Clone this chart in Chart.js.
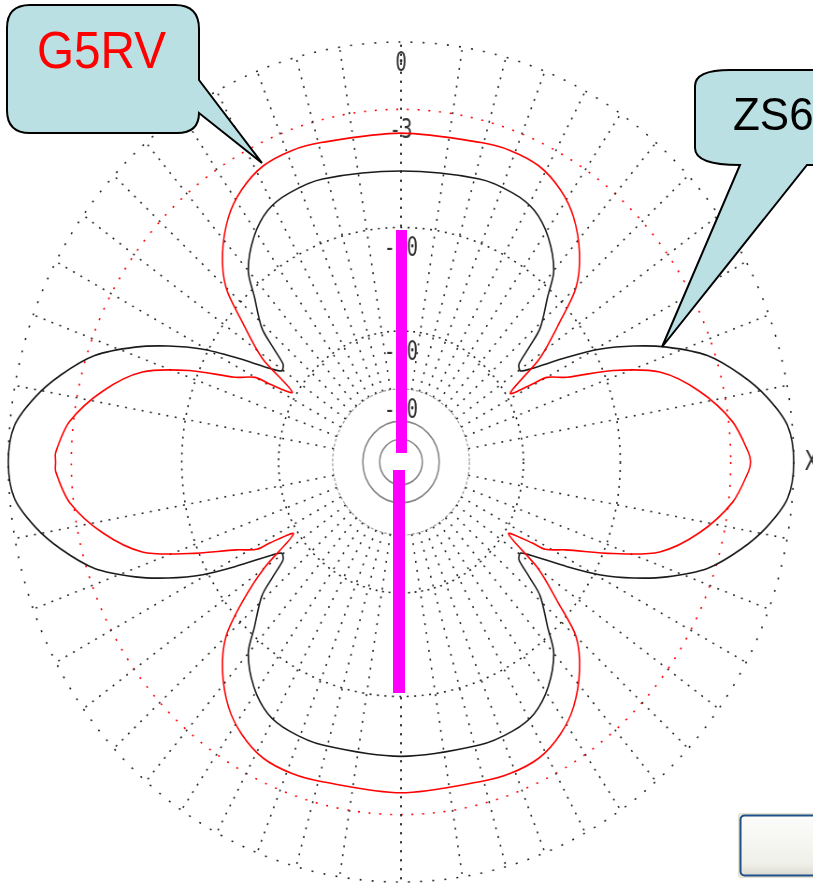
<!DOCTYPE html>
<html>
<head>
<meta charset="utf-8">
<title>G5RV vs ZS6BKW azimuth pattern</title>
<script src="https://cdn.jsdelivr.net/npm/chart.js@4.4.0/dist/chart.umd.min.js"></script>
<style>
    html, body { margin: 0; padding: 0; background: #fff; overflow: hidden; width: 813px; height: 885px; }
    #plot { position: absolute; left: -49px; top: 12px; width: 900px; height: 900px;
            transform-origin: 450px 450px; transform: scaleX(0.935); }
    .wire { position: absolute; background: #ff00ff; }
    #overlay { position: absolute; left: 0; top: 0; }
</style>
</head>
<body>
<div id="plot"><canvas id="pattern" width="900" height="900"></canvas></div>
<div class="wire" style="left:396px;top:230px;width:11px;height:223px"></div>
<div class="wire" style="left:393px;top:470px;width:12px;height:223px"></div>

<svg id="overlay" width="813" height="885">
    <defs>
        <linearGradient id="btnFill" x1="0" y1="0" x2="0" y2="1">
            <stop offset="0" stop-color="#fcfcfb"/>
            <stop offset="0.8" stop-color="#f0f0ea"/>
            <stop offset="1" stop-color="#dcdad0"/>
        </linearGradient>
    </defs>
    <!-- G5RV callout -->
    <path d="M 30,5 H 175 Q 199,5 199,29 V 80 L 262,163 L 199,113 Q 199,133 177,133 H 30 Q 7,133 7,110 V 28 Q 7,5 30,5 Z"
          fill="#bae0e3" stroke="#000" stroke-width="2"/>
    <text transform="translate(37,68) scale(0.935,1)" font-family="Liberation Sans, Arial, sans-serif"
          font-size="51" fill="#ff0000">G5RV</text>
    <!-- ZS6BKW callout -->
    <path d="M 730,70 H 830 V 165 H 807 L 662,347 L 740,165 Q 695,165 695,148 V 86 Q 695,70 730,70 Z"
          fill="#bae0e3" stroke="#000" stroke-width="2"/>
    <text transform="translate(733,130) scale(0.935,1)" font-family="Liberation Sans, Arial, sans-serif"
          font-size="47" fill="#000">ZS6BKW</text>
    <!-- button stub, bottom right -->
    <rect x="738.5" y="813.5" width="90" height="64" rx="2" fill="#ece9d8" stroke="#e4e1d0"/>
    <rect x="740.5" y="815.5" width="90" height="60" rx="4" fill="url(#btnFill)" stroke="#1e4f8a" stroke-width="2"/>
</svg>

<script>
// Azimuth patterns, angle in degrees clockwise from top, gain in dB
const g5rvAngles = [0, 15, 20.5, 26.5, 32, 37, 42.5, 47, 50.5, 55, 59.5, 61, 61.5, 64.5, 68, 72, 77.5, 83.5, 88.5,
    90, 91.5, 96.5, 102.5, 108, 112, 116.5, 119.5, 120, 122, 126, 130, 133, 137.5, 143, 148, 153.5, 159.5, 165,
    180, 195, 200.5, 206.5, 212, 217, 222.5, 227, 230.5, 234, 238, 240, 240.5, 243.5, 248, 252, 257.5, 263.5, 268.5,
    270, 271.5, 276.5, 282.5, 288, 292, 295.5, 298.5, 299, 301, 305, 309.5, 313, 317.5, 323, 328, 333.5, 339.5, 345];
const g5rvDb = [-4.2, -4.1, -4.0, -4.1, -4.6, -5.4, -6.8, -8.5, -11.1, -14.4, -19.4, -16.4, -14.8, -13.0, -9.3, -6.3, -4.3, -2.8, -2.1,
    -2.0, -2.1, -2.8, -4.3, -6.3, -9.3, -13.0, -14.8, -16.4, -19.4, -14.4, -11.1, -8.5, -6.8, -5.4, -4.6, -4.1, -4.0, -4.1,
    -4.1, -4.1, -4.0, -4.1, -4.6, -5.4, -6.8, -8.5, -11.1, -14.4, -19.4, -16.4, -14.8, -13.0, -9.3, -6.3, -4.3, -2.8, -2.2,
    -2.2, -2.2, -2.8, -4.3, -6.3, -9.3, -13.0, -14.8, -16.4, -19.4, -14.4, -11.1, -8.5, -6.8, -5.4, -4.6, -4.1, -4.0, -4.1];

const zs6Angles = [0, 16.5, 24, 29.5, 35, 40.5, 43.5, 48, 50, 52, 53, 54.5, 56, 59.5, 62, 65, 68, 72, 76.5, 80.5, 85,
    90, 95, 99.5, 103.5, 108, 112, 115, 118, 120.5, 124, 125.5, 127, 128, 130, 132, 136.5, 139.5, 145, 150.5, 156, 163.5,
    180, 196.5, 204, 209.5, 215, 220.5, 223.5, 228, 230, 232, 233, 234.5, 236, 239.5, 242, 245, 248, 252, 256.5, 260.5, 265,
    270, 275, 279.5, 283.5, 288, 292, 295, 298, 300.5, 304, 305.5, 307, 308, 310, 312, 316.5, 319.5, 325, 330.5, 336, 343.5];
const zs6Db = [-6.3, -6.05, -6.1, -6.4, -7.3, -8.8, -10.5, -12.7, -14.6, -16.5, -16.8, -16.9, -15.9, -12.2, -9.6, -7.3, -5.4, -3.4, -2.0, -1.0, -0.2,
    0, -0.2, -1.0, -2.0, -3.4, -5.4, -7.3, -9.6, -12.2, -15.9, -16.9, -16.8, -16.5, -14.6, -12.7, -10.5, -8.8, -7.3, -6.4, -6.1, -6.05,
    -6.1, -6.05, -6.1, -6.4, -7.3, -8.8, -10.5, -12.7, -14.6, -16.5, -16.8, -16.9, -15.9, -12.2, -9.6, -7.3, -5.4, -3.4, -2.0, -1.0, -0.2,
    0, -0.2, -1.0, -2.0, -3.4, -5.4, -7.3, -9.6, -12.2, -15.9, -16.9, -16.8, -16.5, -14.6, -12.7, -10.5, -8.8, -7.3, -6.4, -6.1, -6.05];

// Grid rings (dB) and their labels
const ringDb = [-50, -40, -30, -20, -10, -3, 0];
const ringLabels = ['', '', '-30', '-20', '-10', '-3', '0'];
const ringColors = ['#888', '#888', '#9a9a9a', '#222', '#222', '#ff0000', '#222'];
const ringDash = [[], [], [3, 2], [2, 5], [2, 6], [2, 9.5], [2, 11]];
const ringWidth = [1.6, 1.6, 1.2, 1.6, 1.6, 1.6, 1.6];

// Spoke angles in one quadrant, measured from vertical
const spokeQuadrant = [0, 9, 15.5, 21.5, 28, 34, 40.5, 47, 54, 61.5, 69.5, 79.5];

const STEPS = 720; // half-degree resolution around the circle

// ARRL log-periodic scale: radius drops by 0.89 every 2 dB
function arrl(db) {
    return Math.pow(0.89, -db / 2);
}

function toSeries(angles, db) {
    const out = new Array(STEPS).fill(null);
    angles.forEach((a, i) => {
        out[Math.round(a * 2) % STEPS] = arrl(db[i]);
    });
    return out;
}

const spokeAngles = [];
spokeQuadrant.forEach(a => {
    spokeAngles.push(a, 180 - a, 180 + a, 360 - a);
});

// Spokes, ring labels and the X marker
const gridExtras = {
    id: 'gridExtras',
    beforeDatasetsDraw(chart) {
        const r = chart.scales.r;
        const ctx = chart.ctx;
        const inner = r.getDistanceFromCenterForValue(arrl(-30));
        const outer = r.getDistanceFromCenterForValue(arrl(0));

        ctx.save();
        ctx.strokeStyle = '#2a2a2a';
        ctx.lineWidth = 1.6;
        ctx.setLineDash([2, 7]);
        spokeAngles.forEach(a => {
            const t = (a - 90) * Math.PI / 180;
            ctx.beginPath();
            ctx.moveTo(r.xCenter + inner * Math.cos(t), r.yCenter + inner * Math.sin(t));
            ctx.lineTo(r.xCenter + outer * Math.cos(t), r.yCenter + outer * Math.sin(t));
            ctx.stroke();
        });
        ctx.setLineDash([]);

        ctx.fillStyle = '#333';
        ctx.font = '27px "DejaVu Sans Mono"';
        ctx.textAlign = 'center';
        ctx.textBaseline = 'middle';
        ringDb.forEach((d, i) => {
            if (!ringLabels[i]) return;
            const y = r.yCenter - r.getDistanceFromCenterForValue(arrl(d)) + 22;
            ctx.save();
            ctx.translate(r.xCenter, y);
            ctx.scale(0.75, 1);
            ctx.fillText(ringLabels[i], 0, 0);
            ctx.restore();
        });

        ctx.save();
        ctx.font = '26px "DejaVu Sans"';
        ctx.translate(r.xCenter + outer + 19, r.yCenter + 1);
        ctx.scale(0.85, 1);
        ctx.fillText('X', 0, 0);
        ctx.restore();
        ctx.restore();
    }
};

const labels = Array.from({ length: STEPS }, (_, i) => i / 2);

new Chart(document.getElementById('pattern'), {
    type: 'radar',
    data: {
        labels: labels,
        datasets: [{
            label: 'G5RV',
            data: toSeries(g5rvAngles, g5rvDb),
            borderColor: '#ff0000',
            borderWidth: 1.6,
            pointRadius: 0,
            pointHitRadius: 0,
            fill: false,
            spanGaps: true,
            tension: 0.3
        }, {
            label: 'ZS6BKW',
            data: toSeries(zs6Angles, zs6Db),
            borderColor: '#1a1a1a',
            borderWidth: 1.6,
            pointRadius: 0,
            pointHitRadius: 0,
            fill: false,
            spanGaps: true,
            tension: 0.3
        }]
    },
    options: {
        responsive: false,
        devicePixelRatio: 1,
        animation: false,
        events: [],
        layout: { padding: 30 },
        plugins: {
            legend: { display: false },
            tooltip: { enabled: false },
            title: { display: false }
        },
        scales: {
            r: {
                min: 0,
                max: 1,
                afterBuildTicks: scale => {
                    scale.ticks = [0].concat(ringDb.map(arrl)).map(v => ({ value: v }));
                },
                ticks: { display: false },
                pointLabels: { display: false },
                angleLines: { display: false },
                grid: {
                    circular: true,
                    color: ctx => ringColors[ctx.index - 1] || 'transparent',
                    lineWidth: ctx => ringWidth[ctx.index - 1] || 0
                },
                border: {
                    dash: ctx => ringDash[ctx.index - 1] || []
                }
            }
        }
    },
    plugins: [gridExtras]
});
</script>
</body>
</html>
